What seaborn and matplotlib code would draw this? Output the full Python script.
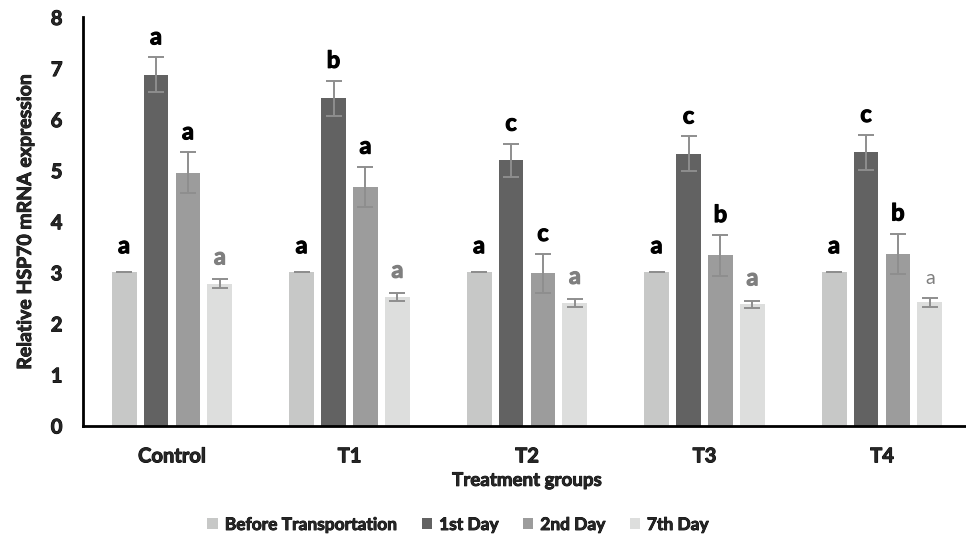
import matplotlib
matplotlib.use("Agg")
import matplotlib.pyplot as plt
import matplotlib.patheffects as pe
import seaborn as sns
import pandas as pd
import numpy as np

groups = ["Control", "T1", "T2", "T3", "T4"]
days = ["Before Transportation", "1st Day", "2nd Day", "7th Day"]

before_vals = [3.00, 3.00, 3.00, 3.00, 3.00]
day1_vals = [6.87, 6.41, 5.19, 5.32, 5.35]
day2_vals = [4.95, 4.67, 2.98, 3.33, 3.36]
day7_vals = [2.78, 2.52, 2.40, 2.37, 2.41]

before_err = [0.0, 0.0, 0.0, 0.0, 0.0]
day1_err = [0.34, 0.34, 0.33, 0.34, 0.34]
day2_err = [0.40, 0.40, 0.38, 0.40, 0.40]
day7_err = [0.08, 0.08, 0.07, 0.07, 0.08]

before_letters = ["a", "a", "a", "a", "a"]
day1_letters = ["a", "b", "c", "c", "c"]
day2_letters = ["a", "a", "c", "b", "b"]
day7_letters = ["a", "a", "a", "a", "a"]
day7_letter_bold = [True, True, True, True, False]

values = [before_vals, day1_vals, day2_vals, day7_vals]
errors = [before_err, day1_err, day2_err, day7_err]
letters = [before_letters, day1_letters, day2_letters, day7_letters]

rows = []
for d, vals in zip(days, values):
    for g, v in zip(groups, vals):
        rows.append({"group": g, "day": d, "value": v})
df = pd.DataFrame(rows)

palette = ["#C7C8C7", "#626262", "#9C9C9C", "#DDDEDD"]
letter_colors = ["black", "black", "black", "#7F7F7F"]

sns.set_theme(style="white")
plt.rcParams["font.family"] = ["Lato", "DejaVu Sans"]
W = "bold"


def thicken(t, color="black", lw=0.6):
    t.set_path_effects([pe.withStroke(linewidth=lw, foreground=color)])


fig = plt.figure(figsize=(9.66, 5.41), dpi=100)
ax = fig.add_axes([83.25 / 966, (541 - 425.5) / 541, 887.5 / 966, 408.5 / 541])

sns.barplot(data=df, x="group", y="value", hue="day", hue_order=days,
            order=groups, palette=palette, width=0.72, gap=0.22,
            errorbar=None, saturation=1, ax=ax, edgecolor="none")

handles, labels = ax.get_legend_handles_labels()
if ax.get_legend() is not None:
    ax.get_legend().remove()

bar_containers = list(ax.containers)
px = 72.0 / 100.0  # points per pixel
for i, cont in enumerate(bar_containers):
    for j, bar in enumerate(cont.patches):
        xc = bar.get_x() + bar.get_width() / 2
        h = bar.get_height()
        e = errors[i][j]
        ax.errorbar(xc, h, yerr=e, fmt="none", ecolor="#8E8E8E",
                    elinewidth=1.4, capsize=5.5, capthick=1.4, zorder=3)
        top = h + max(e, 0.12)
        bold = True
        size = 17
        if i == 3 and not day7_letter_bold[j]:
            bold = False
            size = 14
        t = ax.annotate(letters[i][j], (xc, top), xytext=(0, 9 * px),
                        textcoords="offset points", ha="center", va="bottom",
                        fontsize=size, fontweight=W if bold else "normal",
                        color=letter_colors[i])
        if bold:
            thicken(t, letter_colors[i], 0.8)

ax.set_ylim(0, 8)
ax.set_xlim(-0.5, 4.5)
ax.set_yticks(range(0, 9))
ax.tick_params(axis="both", length=0)
ax.tick_params(axis="y", pad=15)
ax.tick_params(axis="x", pad=15)
for lab in ax.get_yticklabels() + ax.get_xticklabels():
    lab.set_fontweight(W)
    lab.set_fontsize(14.5)
    thicken(lab, "black", 0.7)

ax.set_ylabel("Relative HSP70 mRNA expression", fontsize=14,
              fontweight=W, labelpad=12)
ax.set_xlabel("Treatment groups", fontsize=13.5, fontweight=W,
              labelpad=4)
thicken(ax.yaxis.label, "black", 0.6)
thicken(ax.xaxis.label, "black", 0.6)

sns.despine(ax=ax)
for s in ["left", "bottom"]:
    ax.spines[s].set_color("black")
    ax.spines[s].set_linewidth(2)

leg = fig.legend(handles, labels, loc="center",
                 bbox_to_anchor=(458 / 966, 1 - 525 / 541),
                 ncol=4, frameon=False, handlelength=0.6, handleheight=0.6,
                 handletextpad=0.4, columnspacing=1.4,
                 prop={"weight": W, "size": 12.5})
for t in leg.get_texts():
    thicken(t, "black", 0.6)

fig.savefig("out.png", dpi=100)
